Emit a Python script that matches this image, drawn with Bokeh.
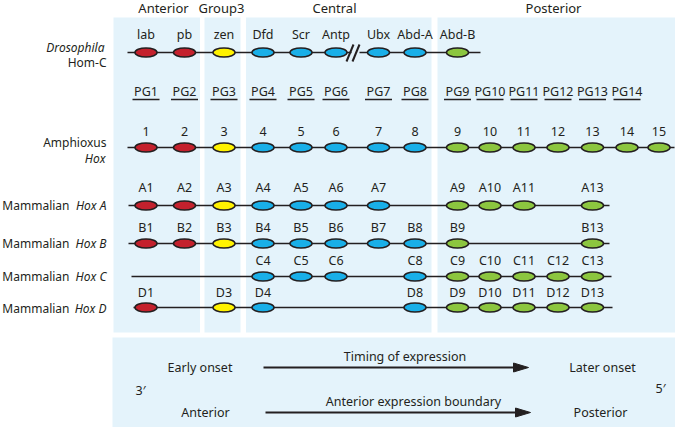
from bokeh.plotting import figure
from bokeh.models import Range1d, ColumnDataSource
from bokeh.core.properties import value
from bokeh.embed import file_html
from bokeh.resources import INLINE

# ---------------- data ----------------
region_names = ["Anterior", "Group3", "Central", "Posterior"]
paralog_groups = list(range(1, 16))
group_region = ["Anterior", "Anterior", "Group3", "Central", "Central", "Central",
                "Central", "Central", "Posterior", "Posterior", "Posterior",
                "Posterior", "Posterior", "Posterior", "Posterior"]
region_colors = {"Anterior": "#c4212d", "Group3": "#fff200",
                 "Central": "#19afe8", "Posterior": "#8cc63f"}

drosophila_genes = ["lab", "pb", "zen", "Dfd", "Scr", "Antp", "Ubx", "Abd-A", "Abd-B"]
drosophila_groups = [1, 2, 3, 4, 5, 6, 7, 8, 9]
pg_labels = ["PG%d" % i for i in range(1, 15)]
pg_groups = list(range(1, 15))
amphioxus_groups = list(range(1, 16))
hoxa_groups = [1, 2, 3, 4, 5, 6, 7, 9, 10, 11, 13]
hoxb_groups = [1, 2, 3, 4, 5, 6, 7, 8, 9, 13]
hoxc_groups = [4, 5, 6, 8, 9, 10, 11, 12, 13]
hoxd_groups = [1, 3, 4, 8, 9, 10, 11, 12, 13]

# ---------------- layout (pixels) ----------------
group_x = [145.5, 184, 223.5, 262.5, 300.5, 335.5, 378, 414.5, 457,
           489.5, 523.5, 557.5, 592, 626.5, 658.5]
gx = dict(zip(paralog_groups, group_x))
gcol = {g: region_colors[r] for g, r in zip(paralog_groups, group_region)}

INK = "#231f20"
PANEL = "#e4f3fb"
FONT = value("Noto Sans")

p = figure(width=675, height=427, output_backend="svg", toolbar_location=None,
           x_range=Range1d(0, 675), y_range=Range1d(427, 0),
           min_border=0, outline_line_color=None, background_fill_color="white")
p.axis.visible = False
p.grid.visible = False

# panels
panel_left = [113, 204, 245.5, 437]
panel_right = [199.5, 240, 431, 690]
p.quad(left=panel_left, right=panel_right, top=[17] * 4, bottom=[332] * 4,
       fill_color=PANEL, line_color=None)
p.quad(left=[112], right=[690], top=[337], bottom=[440], fill_color=PANEL, line_color=None)

def txt(xs, ys, texts, size="12.5px", align="center", style="normal"):
    p.text(x=xs, y=ys, text=texts, text_font=FONT, text_font_size=size,
           text_align=align, text_baseline="middle", text_color=INK,
           text_font_style=style)

# region headers
txt([163, 221, 334, 553], [7, 7, 7, 7], region_names, size="13px")

# ---- Drosophila row ----
yd = 52
p.segment(x0=[127, 359], y0=[yd, yd], x1=[351, 480], y1=[yd, yd], line_color=INK, line_width=1.6)
p.segment(x0=[346, 352], y0=[61, 61], x1=[353, 359], y1=[44, 44], line_color=INK, line_width=2)
dx = [gx[g] for g in drosophila_groups]
p.ellipse(x=dx, y=[yd] * len(dx), width=22, height=9,
          fill_color=[gcol[g] for g in drosophila_groups], line_color=INK, line_width=1.5)
txt(dx, [34] * len(dx), drosophila_genes)
txt([104], [47], ["Drosophila"], size="12px", align="right", style="italic")
txt([106], [62], ["Hom-C"], size="12px", align="right")

# ---- PG labels ----
px = [gx[g] for g in pg_groups]
txt(px, [91] * len(px), pg_labels)
p.segment(x0=[x - 13.5 for x in px], y0=[99] * len(px), x1=[x + 13.5 for x in px],
          y1=[99] * len(px), line_color=INK, line_width=1.3)

# ---- cluster rows ----
rows = [
    (amphioxus_groups, "", 147, 131, 127, 674),
    (hoxa_groups, "A", 205, 187, 128, 609),
    (hoxb_groups, "B", 243, 227, 128, 609),
    (hoxc_groups, "C", 276, 260, 131, 611),
    (hoxd_groups, "D", 307, 292, 133, 612),
]
for grp, prefix, yl, ylab, x0, x1 in rows:
    p.segment(x0=[x0], y0=[yl], x1=[x1], y1=[yl], line_color=INK, line_width=1.6)
    xs = [gx[g] for g in grp]
    p.ellipse(x=xs, y=[yl] * len(xs), width=22, height=9,
              fill_color=[gcol[g] for g in grp], line_color=INK, line_width=1.5)
    txt(xs, [ylab] * len(xs), ["%s%d" % (prefix, g) for g in grp])

txt([106], [142], ["Amphioxus"], size="12px", align="right")
txt([105], [158], ["Hox"], size="12px", align="right", style="italic")
for letter, yl in zip(["A", "B", "C", "D"], [205, 243, 276, 308]):
    txt([69], [yl], ["Mammalian"], size="12px", align="right")
    txt([106], [yl], ["Hox " + letter], size="12px", align="right", style="italic")

# ---- bottom panel ----
txt([199.5, 205, 602, 600], [367, 412, 367, 412],
    ["Early onset", "Anterior", "Later onset", "Posterior"], size="12.5px")
txt([404.5, 413], [356, 401], ["Timing of expression", "Anterior expression boundary"], size="12.5px")
txt([140, 660], [390, 388], ["3\u2032", "5\u2032"], size="12.5px")
p.segment(x0=[263, 265], y0=[367, 412], x1=[516, 518], y1=[367, 412], line_color=INK, line_width=2)
p.patches(xs=[[513, 528, 513], [515, 530, 515]], ys=[[362.5, 367, 371.5], [407.5, 412, 416.5]],
          fill_color=INK, line_color=INK, line_width=1)

open("out.html", "w").write(file_html(p, INLINE))
